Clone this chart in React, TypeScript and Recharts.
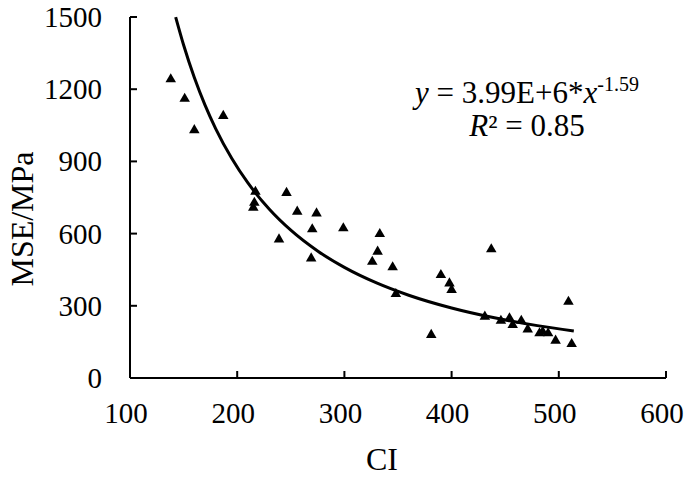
import React from 'react'
import { ComposedChart, Scatter, Line, XAxis, YAxis, ZAxis, Label } from 'recharts'

const FONT = 'Liberation Serif, Times New Roman, serif'

// measured samples: CI vs MSE (MPa)
const ciValues = [
  138, 151, 160, 187, 217, 216, 215, 246, 239, 256, 274, 270, 269, 299, 333, 331, 326, 345,
  348, 381, 390, 398, 400, 437, 431, 446, 454, 457, 465, 471, 482, 485, 490, 497, 509, 512,
]
const mseValues = [
  1241, 1160, 1030, 1089, 774, 728, 708, 769, 576, 691, 684, 618, 497, 622, 598, 525, 483, 460,
  349, 179, 428, 393, 366, 535, 255, 238, 248, 220, 238, 202, 186, 192, 186, 155, 317, 141,
]

// power trendline as printed on the chart: y = 3.99E+6 * x^-1.59
const fitA = 3.99e6
const fitB = -1.59
const fitX = [142.6, 150, 160, 170, 180, 195, 210, 230, 250, 275, 300, 330, 360, 400, 440, 480, 514]

const xTicks = [100, 200, 300, 400, 500, 600]
const yTicks = [0, 300, 600, 900, 1200, 1500]

const points = ciValues.map((ci, i) => ({ ci, mse: mseValues[i] }))
const fit = fitX.map((ci) => ({ ci, mse: fitA * Math.pow(ci, fitB) }))

function XTick({ x, y, payload }: any) {
  return (
    <g>
      <line x1={x} y1={y} x2={x} y2={y - 7} stroke="#000" strokeWidth={2} />
      <text x={x - 4} y={y + 45} textAnchor="middle" fontFamily={FONT} fontSize={29} fill="#000">
        {payload.value}
      </text>
    </g>
  )
}

function YTick({ x, y, payload }: any) {
  return (
    <g>
      <line x1={x} y1={y} x2={x + 7} y2={y} stroke="#000" strokeWidth={2} />
      <text x={x - 28} y={y + 10} textAnchor="end" fontFamily={FONT} fontSize={29} fill="#000">
        {payload.value}
      </text>
    </g>
  )
}

export default function App() {
  return (
    <div style={{ position: 'absolute', left: 0, top: 0, width: 685, height: 482, background: '#fff' }}>
      <ComposedChart width={685} height={482} margin={{ top: 17, right: 19, bottom: 0, left: 0 }}>
        <XAxis
          type="number"
          dataKey="ci"
          domain={[100, 600]}
          ticks={xTicks}
          height={104}
          tickSize={0}
          tickMargin={0}
          tickLine={false}
          axisLine={{ stroke: '#000', strokeWidth: 2 }}
          tick={<XTick />}
          interval={0}
        >
          <Label
            content={() => (
              <text x={382} y={470} textAnchor="middle" fontFamily={FONT} fontSize={32} fill="#000">
                CI
              </text>
            )}
          />
        </XAxis>
        <YAxis
          type="number"
          dataKey="mse"
          domain={[0, 1500]}
          ticks={yTicks}
          width={130}
          tickSize={0}
          tickMargin={0}
          tickLine={false}
          axisLine={{ stroke: '#000', strokeWidth: 2 }}
          tick={<YTick />}
          interval={0}
        >
          <Label
            content={() => (
              <text
                x={33}
                y={219}
                transform="rotate(-90 33 219)"
                textAnchor="middle"
                fontFamily={FONT}
                fontSize={32}
                fill="#000"
              >
                MSE/MPa
              </text>
            )}
          />
        </YAxis>
        <ZAxis range={[48, 48]} />
        <Line
          data={fit}
          dataKey="mse"
          type="monotone"
          dot={false}
          stroke="#000"
          strokeWidth={3}
          isAnimationActive={false}
        />
        <Scatter data={points} dataKey="mse" shape="triangle" fill="#000" isAnimationActive={false} />
      </ComposedChart>

      {/* trendline equation */}
      <div
        style={{
          position: 'absolute',
          left: 377,
          top: 78,
          width: 300,
          textAlign: 'center',
          fontFamily: FONT,
          fontSize: 31,
          lineHeight: '30px',
          color: '#000',
        }}
      >
        <div>
          <i>y</i> = 3.99E+6*<i>x</i>
          <span style={{ fontSize: 20, position: 'relative', top: -12 }}>-1.59</span>
        </div>
        <div>
          <i>R</i>² = 0.85
        </div>
      </div>
    </div>
  )
}
